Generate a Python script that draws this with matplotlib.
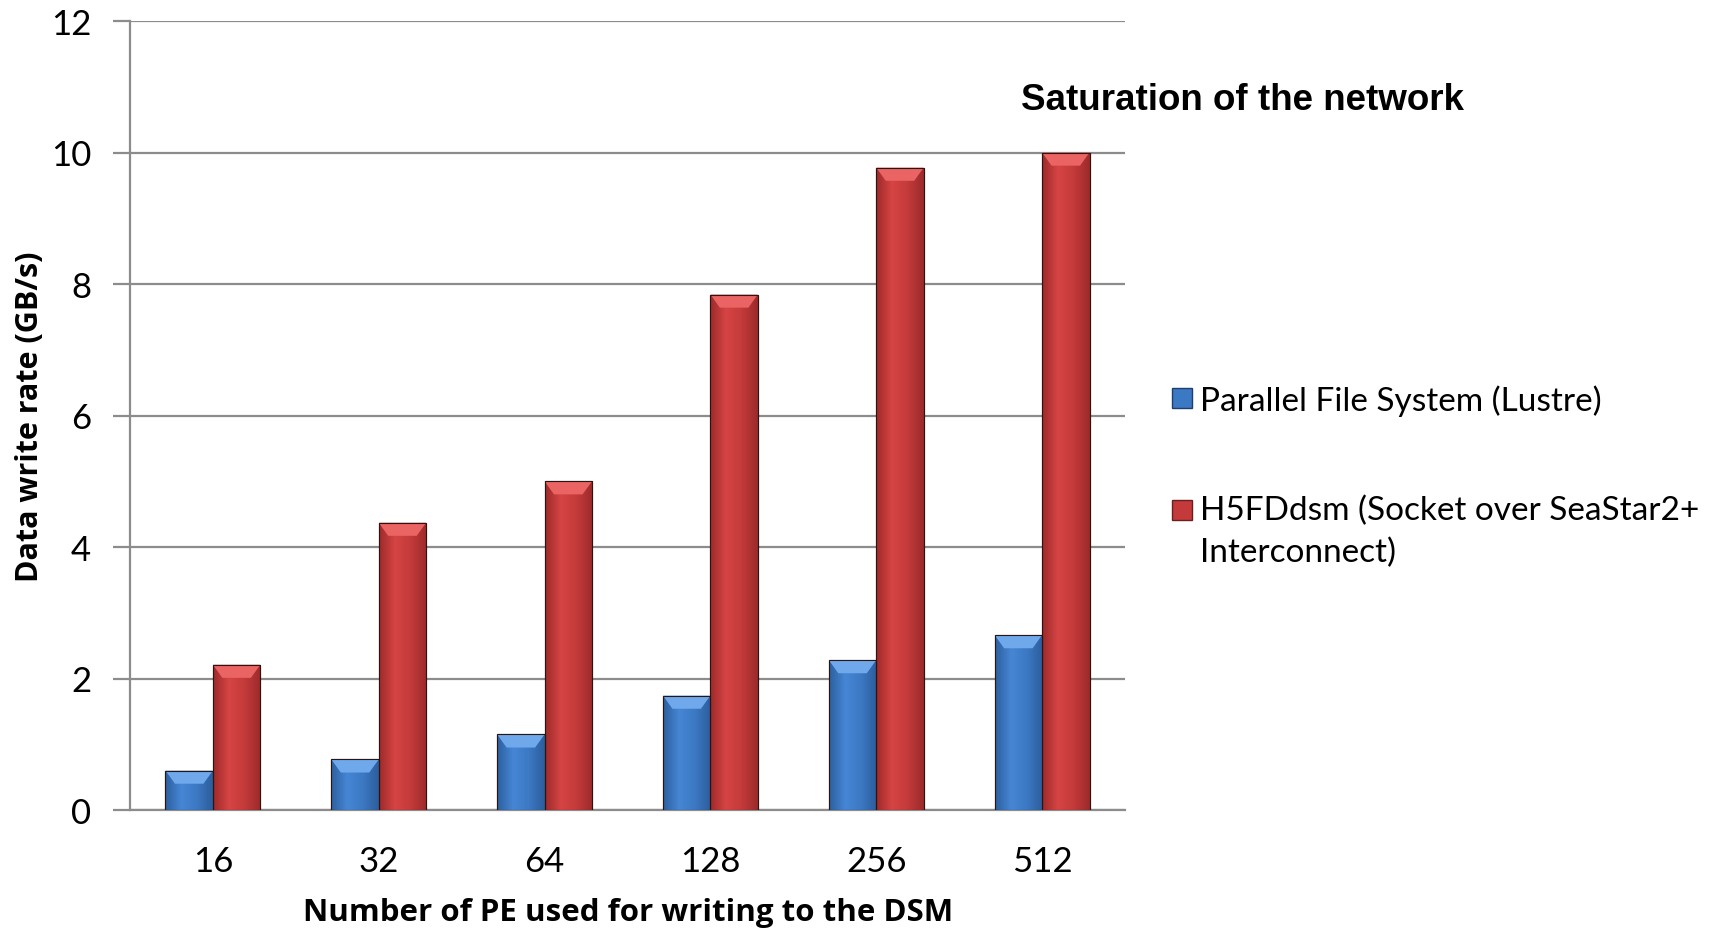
import numpy as np
import matplotlib
matplotlib.use("Agg")
import matplotlib.pyplot as plt
from matplotlib.lines import Line2D
from matplotlib.legend_handler import HandlerLine2D
from matplotlib.colors import LinearSegmentedColormap

categories = ["16", "32", "64", "128", "256", "512"]
lustre = [0.60, 0.77, 1.15, 1.74, 2.28, 2.66]
h5fddsm = [2.21, 4.37, 5.00, 7.84, 9.77, 10.00]
series_names = ["Parallel File System (Lustre)", "H5FDdsm (Socket over SeaStar2+\nInterconnect)"]
title_text = "Saturation of the network"
xlabel = "Number of PE used for writing to the DSM"
ylabel = "Data write rate (GB/s)"

BODY = "Lato"
W, H, DPI = 1721, 929, 100
fig = plt.figure(figsize=(W / DPI, H / DPI), dpi=DPI)
ax = fig.add_axes([130 / W, 1 - 811 / H, (1125 - 130) / W, (811 - 22) / H])

x = np.arange(len(categories))
bw = 0.286
blue_cmap = LinearSegmentedColormap.from_list("b", ["#2c5f9e", "#4686d4", "#3c79c4", "#2d5e9c"])
red_cmap = LinearSegmentedColormap.from_list("r", ["#9e2a2a", "#d64444", "#c43a3a", "#9c2a2a"])

def draw(xs, vals, base, cmap, top_col):
    bars = ax.bar(xs, vals, width=bw, color=base, edgecolor="#3a1a1a", linewidth=0.8, zorder=3)
    grad = np.linspace(0, 1, 64).reshape(1, -1)
    for b in bars:
        x0, y0 = b.get_x(), b.get_y()
        w_, h_ = b.get_width(), b.get_height()
        im = ax.imshow(grad, cmap=cmap, aspect="auto", extent=[x0, x0 + w_, y0, y0 + h_], zorder=3.5)
        im.set_clip_path(b)
        bev = min(0.2, h_ * 0.5)
        ax.fill([x0, x0 + w_, x0 + w_ * 0.8, x0 + w_ * 0.2], [y0 + h_, y0 + h_, y0 + h_ - bev, y0 + h_ - bev],
                color=top_col, zorder=3.6, lw=0)
        ax.add_patch(plt.Rectangle((x0, y0), w_, h_, fill=False, edgecolor="#2a1515", lw=0.8, zorder=3.7))
    return bars

draw(x - bw / 2, lustre, "#3c79c4", blue_cmap, "#6fa9ec")
draw(x + bw / 2, h5fddsm, "#c43a3a", red_cmap, "#ea6464")

ax.set_xlim(-0.5, len(categories) - 0.5)
ax.set_ylim(0, 12)
ax.set_yticks(np.arange(0, 13, 2))
ax.set_xticks(x)
ax.set_xticklabels(categories)
ax.yaxis.grid(True, color="#8c8c8c", linewidth=1.6, zorder=0)
ax.set_axisbelow(True)
for s in ["top", "right"]:
    ax.spines[s].set_visible(False)
ax.spines["left"].set_color("#8c8c8c")
ax.spines["left"].set_linewidth(1.6)
ax.spines["bottom"].set_color("#8c8c8c")
ax.spines["bottom"].set_linewidth(1.6)
ax.tick_params(axis="y", length=12, width=1.6, color="#8c8c8c", pad=16, labelsize=25)
ax.tick_params(axis="x", length=0, pad=25, labelsize=25)
for lab in ax.get_xticklabels() + ax.get_yticklabels():
    lab.set_fontfamily(BODY)

ax.set_xlabel(xlabel, fontsize=22.5, fontweight="bold", fontfamily="Open Sans")
ax.set_ylabel(ylabel, fontsize=22, fontweight="bold", fontfamily="Open Sans")
ax.xaxis.set_label_coords((628 - 130) / (1125 - 130), -(913 - 811) / (811 - 22))
ax.yaxis.set_label_coords(-(130 - 30) / (1125 - 130), (811 - 417) / (811 - 22))
ax.xaxis.label.set_va("center")
ax.yaxis.label.set_va("center")

fig.text(1021 / W, 1 - 100 / H, title_text, fontsize=26.5, fontweight="bold",
         fontfamily="Liberation Sans", va="center", ha="left")


class ShiftedHandler(HandlerLine2D):
    def __init__(self, shift_pts=0.0, **kw):
        super().__init__(**kw)
        self.shift_pts = shift_pts

    def create_artists(self, legend, orig_handle, xdescent, ydescent, width, height, fontsize, trans):
        arts = super().create_artists(legend, orig_handle, xdescent, ydescent, width, height, fontsize, trans)
        for a in arts:
            a.set_ydata(np.asarray(a.get_ydata()) + self.shift_pts)
        return arts


handles = [Line2D([], [], marker="s", linestyle="none", markersize=14, markerfacecolor="#3c79c4",
                  markeredgecolor="#1f3f6a"),
           Line2D([], [], marker="s", linestyle="none", markersize=14, markerfacecolor="#c43a3a",
                  markeredgecolor="#6a1f1f")]
leg = fig.legend(handles, series_names, loc="upper left", bbox_to_anchor=(1152 / W, 1 - 372 / H),
                 frameon=False, prop={"family": BODY, "size": 24}, handletextpad=0.05,
                 labelspacing=2.35, handlelength=1.0, borderaxespad=0,
                 handler_map={handles[1]: ShiftedHandler(shift_pts=15.5)})
for t in leg.get_texts():
    t.set_linespacing(1.5)

fig.savefig("out.png", dpi=DPI)
